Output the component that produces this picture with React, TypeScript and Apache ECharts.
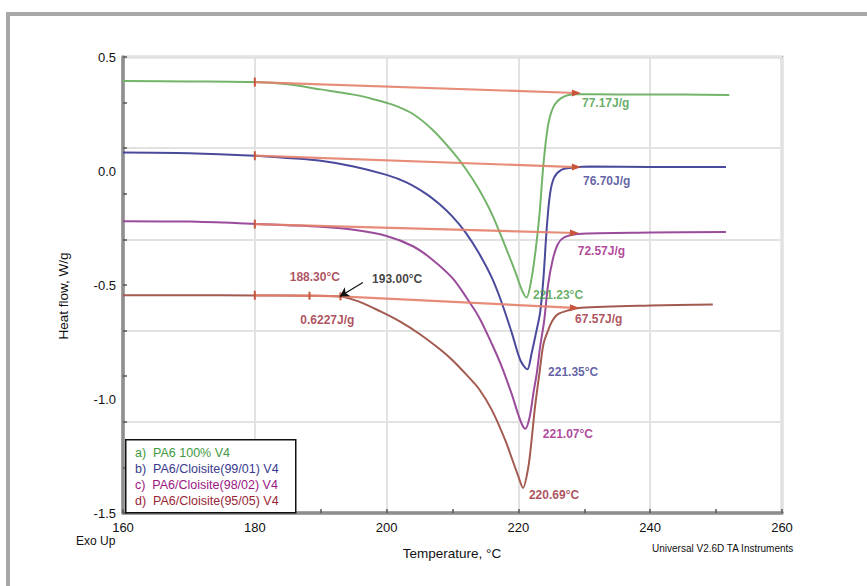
import React, { useEffect, useRef } from "react";
import * as echarts from "echarts";

// ---- data ----
const tempA = [160, 170, 180, 185, 190, 195, 198, 201, 204, 207, 210, 212, 214, 216, 218, 219.5, 220.5, 221.23, 222, 222.6, 223.2, 223.8, 224.5, 225.3, 226.5, 228.5, 235, 245, 252];
const flowA = [0.395, 0.393, 0.39, 0.38, 0.358, 0.335, 0.315, 0.29, 0.25, 0.18, 0.085, 0.01, -0.08, -0.19, -0.33, -0.44, -0.52, -0.555, -0.47, -0.35, -0.19, 0.03, 0.2, 0.28, 0.32, 0.337, 0.336, 0.335, 0.333];

const tempB = [160, 170, 180, 185, 190, 195, 200, 203, 206, 208, 210, 212, 214, 216, 217.5, 219, 220.3, 221.35, 222, 222.6, 223.3, 223.8, 224.3, 224.8, 225.4, 226.5, 228, 231, 240, 251.5];
const flowB = [0.081, 0.078, 0.067, 0.057, 0.045, 0.02, -0.017, -0.05, -0.1, -0.145, -0.2, -0.27, -0.36, -0.47, -0.58, -0.71, -0.83, -0.87, -0.8, -0.72, -0.62, -0.47, -0.25, -0.1, -0.03, 0.005, 0.014, 0.02, 0.018, 0.017];

const tempC = [160, 170, 180, 185, 190, 195, 200, 204, 207, 210, 212, 214, 216, 217.5, 219, 220, 220.6, 221.07, 221.7, 222.3, 222.8, 223.3, 223.9, 224.5, 225.2, 226, 227, 229, 240, 251.5];
const flowC = [-0.22, -0.222, -0.232, -0.238, -0.245, -0.258, -0.285, -0.33, -0.39, -0.47, -0.55, -0.64, -0.76, -0.86, -0.98, -1.07, -1.115, -1.13, -1.08, -0.97, -0.885, -0.77, -0.66, -0.5, -0.39, -0.32, -0.29, -0.276, -0.27, -0.267];

const tempD = [160, 170, 180, 188, 193, 196, 199, 202, 205, 208, 210, 212, 214, 216, 218, 219, 220, 220.69, 221.5, 222, 222.5, 223.2, 223.8, 224.5, 225.2, 226, 227.5, 229.5, 240, 249.5];
const flowD = [-0.545, -0.545, -0.546, -0.547, -0.55, -0.575, -0.615, -0.66, -0.715, -0.78, -0.83, -0.89, -0.955, -1.05, -1.18, -1.26, -1.34, -1.39, -1.3, -1.18, -1.04, -0.885, -0.76, -0.7, -0.655, -0.628, -0.612, -0.6, -0.59, -0.585];

const baseAT = [180, 228.8];
const baseAV = [0.39, 0.342];
const baseBT = [180, 228.8];
const baseBV = [0.067, 0.017];
const baseCT = [180, 228.5];
const baseCV = [-0.233, -0.272];
const baseDT = [180, 188.3, 193, 228.5];
const baseDV = [-0.545, -0.547, -0.55, -0.6];

const legendLabels = ["a)  PA6 100% V4", "b)  PA6/Cloisite(99/01) V4", "c)  PA6/Cloisite(98/02) V4", "d)  PA6/Cloisite(95/05) V4"];

const annTexts = ["77.17J/g", "76.70J/g", "72.57J/g", "221.23°C", "67.57J/g", "221.35°C", "221.07°C", "220.69°C", "188.30°C", "193.00°C", "0.6227J/g"];
const annT = [229.65, 229.8, 229.0, 222.2, 228.6, 224.5, 223.7, 221.6, 185.3, 197.8, 186.9];
const annV = [0.299, -0.043, -0.349, -0.542, -0.647, -0.883, -1.154, -1.421, -0.463, -0.472, -0.655];
const annColorKey = ["a", "b", "c", "a", "d", "b", "c", "d", "d", "k", "d"];

const arrowFrom = [196.4, -0.489];
const arrowTo = [192.9, -0.55];

const xTicks = { min: 160, max: 260, step: 20 };
const yTicks = { min: -1.5, max: 0.5, step: 0.5 };

// ---- styles ----
const lineColors: Record<string, string> = { a: "#74b46a", b: "#4a4a9c", c: "#9a4c9a", d: "#a35a50" };
const textColors: Record<string, string> = { a: "#3f9a3f", b: "#3a3a8e", c: "#9c1682", d: "#992636", k: "#111111" };
const baseColor = "#e3806a";
const FONT = "'Liberation Sans', Arial, sans-serif";

export default function App() {
  const ref = useRef<HTMLDivElement>(null);
  useEffect(() => {
    document.body.style.margin = "0";
    if (!ref.current) return;
    const chart = echarts.init(ref.current, null, { renderer: "svg" });

    const curves = [
      { key: "a", t: tempA, v: flowA },
      { key: "b", t: tempB, v: flowB },
      { key: "c", t: tempC, v: flowC },
      { key: "d", t: tempD, v: flowD },
    ];
    const curveSeries = curves.map((c) => ({
      type: "line",
      name: c.key,
      data: c.t.map((t, i) => [t, c.v[i]]),
      showSymbol: false,
      smooth: 0.3,
      lineStyle: { color: lineColors[c.key], width: 2 },
      itemStyle: { color: lineColors[c.key] },
      z: 3,
      silent: true,
    }));

    const mkBase = (ts: number[], vs: number[]) => ({
      type: "line",
      data: ts.map((t, i) => {
        const last = i === ts.length - 1;
        const first = i === 0;
        return {
          value: [t, vs[i]],
          symbol: last ? "triangle" : "rect",
          symbolSize: last ? [7, 9] : first ? [2, 9] : [2, 8],
          symbolRotate: last ? -90 : 0,
        };
      }),
      showSymbol: true,
      showAllSymbol: true,
      lineStyle: { color: baseColor, width: 2.2, opacity: 0.9 },
      itemStyle: { color: "#c9553c" },
      z: 4,
      silent: true,
    });
    const baseSeries = [
      mkBase(baseAT, baseAV),
      mkBase(baseBT, baseBV),
      mkBase(baseCT, baseCV),
      mkBase(baseDT, baseDV),
    ];

    const annSeries = {
      type: "scatter",
      symbolSize: 0,
      silent: true,
      z: 6,
      data: annTexts.map((txt, i) => ({
        value: [annT[i], annV[i]],
        name: txt,
        label: {
          show: true,
          position: "right",
          distance: 0,
          formatter: txt,
          color: textColors[annColorKey[i]],
          fontFamily: FONT,
          fontWeight: "bold",
          fontSize: 12,
        },
      })),
      markLine: {
        silent: true,
        symbol: ["none", "arrow"],
        symbolSize: [8, 9],
        label: { show: false },
        lineStyle: { color: "#111", width: 1.2, type: "solid" },
        data: [[{ coord: arrowFrom }, { coord: arrowTo }]],
      },
    };

    const option = {
      animation: false,
      backgroundColor: "#ffffff",
      grid: {
        left: 123,
        top: 57,
        width: 659,
        height: 456,
        show: true,
        borderColor: "#a0a0a0",
        borderWidth: 2.5,
        backgroundColor: "#ffffff",
      },
      xAxis: {
        type: "value",
        min: xTicks.min,
        max: xTicks.max,
        interval: xTicks.step,
        axisLine: { show: true, onZero: false, lineStyle: { color: "#8e8e8e", width: 3.5 } },
        axisTick: { show: true, length: 4, inside: true, lineStyle: { color: "#555", width: 1.5 } },
        minorTick: { show: true, splitNumber: 2, length: 4, lineStyle: { color: "#555", width: 1.5 } },
        splitLine: { show: true, lineStyle: { color: "#e2e2e2", width: 2 } },
        axisLabel: { color: "#111", fontFamily: FONT, fontSize: 13, margin: 8 },
      },
      yAxis: [
        {
          type: "value",
          min: yTicks.min,
          max: yTicks.max,
          interval: yTicks.step,
          axisLine: { show: true, onZero: false, lineStyle: { color: "#8e8e8e", width: 3.5 } },
          axisTick: { show: false },
          splitLine: { show: false },
          axisLabel: {
            color: "#111",
            fontFamily: FONT,
            fontSize: 13,
            margin: 7,
            formatter: (v: number) => (Math.abs(v) < 1e-9 ? "0.0" : v.toFixed(1)),
          },
        },
        {
          type: "value",
          min: 0,
          max: 10,
          interval: 2,
          position: "left",
          axisLine: { show: false, onZero: false },
          axisLabel: { show: false },
          axisTick: { show: true, length: 4, inside: true, lineStyle: { color: "#555", width: 1.5 } },
          minorTick: { show: true, splitNumber: 2, length: 4, lineStyle: { color: "#555", width: 1.5 } },
          splitLine: { show: true, lineStyle: { color: "#e2e2e2", width: 2 } },
        },
      ],
      graphic: [
        { type: "rect", left: 6, top: 12, shape: { width: 861, height: 4 }, style: { fill: "#a9a9a9" }, silent: true },
        { type: "rect", left: 6, top: 12, shape: { width: 4, height: 574 }, style: { fill: "#a9a9a9" }, silent: true },
        {
          type: "text",
          x: 63,
          y: 296,
          rotation: Math.PI / 2,
          style: { text: "Heat flow, W/g", fill: "#111", font: `13.5px ${FONT}`, align: "center", verticalAlign: "middle" },
          silent: true,
        },
        {
          type: "text",
          x: 452,
          y: 553,
          style: { text: "Temperature, °C", fill: "#111", font: `13.5px ${FONT}`, align: "center", verticalAlign: "middle" },
          silent: true,
        },
        {
          type: "text",
          x: 76,
          y: 541,
          style: { text: "Exo Up", fill: "#111", font: `12px ${FONT}`, align: "left", verticalAlign: "middle" },
          silent: true,
        },
        {
          type: "text",
          x: 652,
          y: 548,
          style: { text: "Universal V2.6D TA Instruments", fill: "#111", font: `10px ${FONT}`, align: "left", verticalAlign: "middle" },
          silent: true,
        },
        {
          type: "rect",
          left: 125,
          top: 439,
          z: 50,
          shape: { width: 170, height: 73 },
          style: { fill: "#ffffff", stroke: "#111", lineWidth: 1.5 },
          silent: true,
        },
        ...legendLabels.map((txt, i) => ({
          type: "text",
          x: 135,
          y: 453 + i * 16,
          z: 51,
          style: {
            text: txt,
            fill: textColors[["a", "b", "c", "d"][i]],
            font: `12.5px ${FONT}`,
            align: "left",
            verticalAlign: "middle",
          },
          silent: true,
        })),
      ],
      series: [...curveSeries, ...baseSeries, annSeries],
    };
    chart.setOption(option as any);
    return () => chart.dispose();
  }, []);
  return <div ref={ref} style={{ width: 867, height: 586 }} />;
}
